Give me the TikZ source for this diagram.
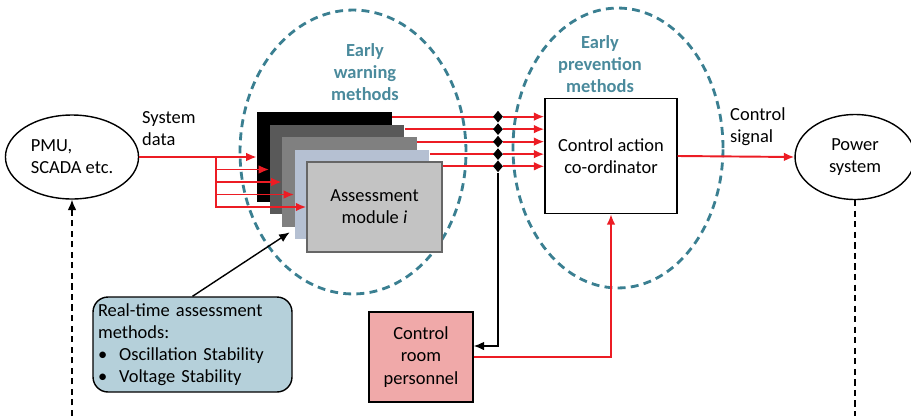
\documentclass[tikz,border=0pt]{standalone}
\usepackage{fontspec}
\setmainfont{Carlito}
\usetikzlibrary{arrows.meta,positioning,shapes.geometric,calc}
\definecolor{tealline}{HTML}{3A7F91}
\definecolor{tealtext}{HTML}{4A8A9C}
\definecolor{sigred}{HTML}{EC1C24}
\definecolor{modtwo}{HTML}{595959}
\definecolor{modthree}{HTML}{808080}
\definecolor{modfour}{HTML}{B5C0D2}
\definecolor{modfive}{HTML}{C3C3C3}
\definecolor{modedge}{HTML}{666666}
\definecolor{infofill}{HTML}{B5D0DA}
\definecolor{roomfill}{HTML}{F0A9A9}
\tikzset{
    redline/.style={draw=sigred,line width=1.1pt},
    redarr/.style={redline,-{Latex[length=6pt,width=5pt]}},
    blkarr/.style={draw=black,line width=0.8pt,-{Latex[length=6pt,width=5pt]}},
    teal ring/.style={ellipse,draw=tealline,line width=1.6pt,dash pattern=on 4.5pt off 3pt},
    group title/.style={text=tealtext,align=center,font=\fontsize{10.5}{12.6}\selectfont\bfseries},
    modbox/.style={minimum width=2.7cm,minimum height=1.8cm,inner sep=0pt},
    textbox/.style={draw,thick,align=center},
    infobox/.style={draw,thick,fill=infofill,rounded corners=0.3cm,align=left,text width=3.78cm,minimum height=1.9cm,inner sep=0.1cm},
    bus dot/.style={diamond,fill=black,inner sep=0pt,minimum width=0.2cm,minimum height=0.24cm},
    feedback/.style={draw=black,line width=0.8pt,dash pattern=on 3.5pt off 2.5pt},
}
\tikzstyle{every node}=[font=\fontsize{10.5}{12.6}\selectfont]

\begin{document}
\begin{tikzpicture}[x=0.02cm,y=-0.02cm]
    \useasboundingbox (0,0) rectangle (911,416);

    % dashed groups
    \node[teal ring,minimum width=4.52cm,minimum height=5.68cm] (warn) at (353,152) {};
    \node[teal ring,minimum width=4.2cm,minimum height=5.6cm] (prev) at (618,148) {};
    \node[group title] (warntitle) at (365,72) {Early\\warning\\methods};
    \node[group title] (prevtitle) at (600,64) {Early\\prevention\\methods};

    % sources and sinks
    \node[ellipse,draw,thick,minimum width=2.54cm,minimum height=1.68cm,align=left] (pmu) at (72,157) {PMU,\\SCADA etc.};
    \node[ellipse,draw,thick,minimum width=2.4cm,minimum height=1.7cm,align=center] (power) at (855,157) {Power\\system};
    \node[anchor=west,align=left] (sysdata) at (136,129) {System\\data};
    \node[anchor=west,align=left] (ctrlsig) at (724,127) {Control\\signal};

    % assessment modules
    \foreach \i/\c in {1/black,2/modtwo,3/modthree,4/modfour}
        \node[modbox,fill=\c] (mod\i) at (312+12.5*\i,144.5+12.5*\i) {};
    \node[modbox,fill=modfive,draw=modedge,thick,align=center] (mod5) at (374.5,207) {Assessment\\module \textit{i}};

    \node[textbox,fill=white,minimum width=2.64cm,minimum height=2.3cm] (ctrl) at (611,156) {Control action\\co-ordinator};
    \node[textbox,fill=roomfill,minimum width=2.08cm,minimum height=1.8cm] (room) at (421,357) {Control\\room\\personnel};
    \node[infobox] (rtm) at (192.5,344.5) {Real-time assessment\\methods:\\\makebox[12pt][l]{\textbullet}Oscillation Stability\\\makebox[12pt][l]{\textbullet}Voltage Stability};

    % system data into modules
    \coordinate (split) at (216,157);
    \draw[redarr] (pmu) -- (mod1);
    \foreach \i in {2,...,5}
        \draw[redarr] (split) |- (mod\i.west);

    % module outputs to the bus
    \coordinate (bus) at (498,0);
    \foreach \i in {1,...,5} {
        \coordinate (out\i) at ([yshift=-0.1cm]mod\i.north east);
        \draw[redline] (out\i) -- (bus |- out\i);
        \node[bus dot] (dot\i) at (bus |- out\i) {};
        \draw[redarr] (dot\i) -- (dot\i -| ctrl.west);
    }
    \draw[blkarr] (dot5) |- ([yshift=0.22cm]room.east);
    \draw[redarr] (room.east) -| (ctrl.south);
    \draw[redarr] (ctrl.east) -- (power.west);
    \draw[blkarr] (rtm.north) -- ($(mod3.south west)+(8,5)$);

    % feedback through the plant
    \coordinate (pmufoot) at (72,416);
    \coordinate (powfoot) at (855,416);
    \draw[feedback,-{Latex[length=6pt,width=5pt]}] (pmufoot) -- (pmu.south);
    \draw[feedback] (power.south) -- (powfoot);
\end{tikzpicture}
\end{document}
